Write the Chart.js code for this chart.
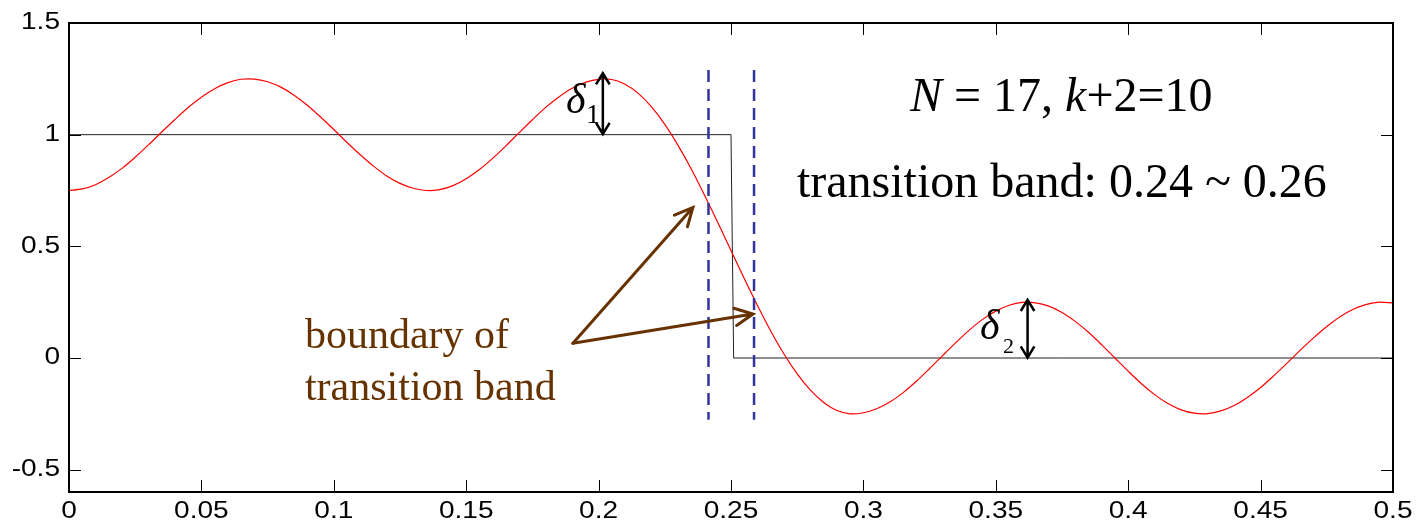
<!DOCTYPE html>
<html>
<head>
<meta charset="utf-8">
<script src="https://cdn.jsdelivr.net/npm/chart.js@4.4.1/dist/chart.umd.min.js"></script>
<style>
  html, body { margin: 0; padding: 0; background: #fff; }
  canvas { display: block; }
</style>
</head>
<body>
<canvas id="freqResp" width="1417" height="526"></canvas>
<script>
// normalized frequency grid
const freq = [
  0, 0.005, 0.01, 0.015, 0.02, 0.025, 0.03, 0.035, 0.04, 0.045,
  0.05, 0.055, 0.06, 0.065, 0.07, 0.075, 0.08, 0.085, 0.09, 0.095,
  0.1, 0.105, 0.11, 0.115, 0.12, 0.125, 0.13, 0.135, 0.14, 0.145,
  0.15, 0.155, 0.16, 0.165, 0.17, 0.175, 0.18, 0.185, 0.19, 0.195,
  0.2, 0.205, 0.21, 0.215, 0.22, 0.225, 0.23, 0.235, 0.24, 0.245,
  0.25, 0.255, 0.26, 0.265, 0.27, 0.275, 0.28, 0.285, 0.29, 0.295,
  0.3, 0.305, 0.31, 0.315, 0.32, 0.325, 0.33, 0.335, 0.34, 0.345,
  0.35, 0.355, 0.36, 0.365, 0.37, 0.375, 0.38, 0.385, 0.39, 0.395,
  0.4, 0.405, 0.41, 0.415, 0.42, 0.425, 0.43, 0.435, 0.44, 0.445,
  0.45, 0.455, 0.46, 0.465, 0.47, 0.475, 0.48, 0.485, 0.49, 0.495,
  0.5
];

// amplitude response of the designed filter (N = 17)
const response = [
  0.750, 0.757, 0.776, 0.808, 0.849, 0.899, 0.954, 1.012, 1.068, 1.122,
  1.168, 1.206, 1.233, 1.248, 1.249, 1.237, 1.213, 1.177, 1.132, 1.079,
  1.023, 0.965, 0.910, 0.859, 0.815, 0.782, 0.760, 0.750, 0.754, 0.772,
  0.803, 0.844, 0.894, 0.950, 1.009, 1.067, 1.122, 1.169, 1.208, 1.234,
  1.248, 1.247, 1.226, 1.185, 1.124, 1.046, 0.952, 0.846, 0.729, 0.607,
  0.481, 0.356, 0.235, 0.121, 0.018, -0.071, -0.144, -0.199, -0.235, -0.250,
  -0.245, -0.227, -0.197, -0.155, -0.104, -0.047, 0.012, 0.070, 0.125, 0.173,
  0.210, 0.236, 0.249, 0.247, 0.232, 0.204, 0.164, 0.115, 0.059, 0.000,
  -0.059, -0.115, -0.164, -0.204, -0.232, -0.247, -0.249, -0.237, -0.213, -0.177,
  -0.132, -0.079, -0.023, 0.035, 0.090, 0.141, 0.185, 0.218, 0.240, 0.250,
  0.246
];

// ideal lowpass, cutoff 0.25
const idealFreq = [0, 0.25, 0.251, 0.5];
const idealGain = [1, 1, 0, 0];

// transition band boundaries
const bandEdges = [0.2415, 0.2587];
const bandSpan = [1.29, -0.276];

const xTicks = [0, 0.05, 0.1, 0.15, 0.2, 0.25, 0.3, 0.35, 0.4, 0.45, 0.5];
const xTickLabels = ['0', '0.05', '0.1', '0.15', '0.2', '0.25', '0.3', '0.35', '0.4', '0.45', '0.5'];
const yTicks = [-0.5, 0, 0.5, 1, 1.5];
const yTickLabels = ['-0.5', '0', '0.5', '1', '1.5'];

const toXY = (xs, ys) => xs.map((v, i) => ({ x: v, y: ys[i] }));

const SERIF = '"Liberation Serif", "Times New Roman", serif';
const BROWN = '#663300';

function stretchText(ctx, str, x, y, align, sx) {
  ctx.save();
  ctx.translate(x, y);
  ctx.scale(sx, 1);
  ctx.textAlign = align;
  ctx.fillText(str, 0, 0);
  ctx.restore();
}

function arrowHead(ctx, x0, y0, x1, y1, len, ang) {
  const a = Math.atan2(y1 - y0, x1 - x0);
  ctx.moveTo(x1 - len * Math.cos(a - ang), y1 - len * Math.sin(a - ang));
  ctx.lineTo(x1, y1);
  ctx.lineTo(x1 - len * Math.cos(a + ang), y1 - len * Math.sin(a + ang));
}

// box with inward ticks on all four sides
const axisFrame = {
  id: 'axisFrame',
  afterDraw(chart) {
    const { ctx, chartArea: a, scales: { x, y } } = chart;
    ctx.save();
    ctx.strokeStyle = '#000';
    ctx.lineWidth = 1;
    ctx.beginPath();
    xTicks.forEach(v => {
      const px = Math.round(x.getPixelForValue(v)) + 0.5;
      ctx.moveTo(px, a.bottom); ctx.lineTo(px, a.bottom - 12);
      ctx.moveTo(px, a.top); ctx.lineTo(px, a.top + 12);
    });
    yTicks.forEach(v => {
      const py = Math.round(y.getPixelForValue(v)) + 0.5;
      ctx.moveTo(a.left, py); ctx.lineTo(a.left + 12, py);
      ctx.moveTo(a.right, py); ctx.lineTo(a.right - 12, py);
    });
    ctx.stroke();
    ctx.lineWidth = 2;
    ctx.strokeRect(a.left, a.top, a.right - a.left, a.bottom - a.top);

    ctx.fillStyle = '#000';
    ctx.font = '23px "Liberation Sans", Arial, sans-serif';
    ctx.textBaseline = 'middle';
    xTicks.forEach((v, i) => stretchText(ctx, xTickLabels[i], x.getPixelForValue(v), a.bottom + 20, 'center', 1.22));
    yTicks.forEach((v, i) => stretchText(ctx, yTickLabels[i], a.left - 9, y.getPixelForValue(v), 'right', 1.22));
    ctx.restore();
  }
};

// text labels and arrows placed in data coordinates
const notes = {
  id: 'notes',
  afterDatasetsDraw(chart) {
    const { ctx, scales: { x, y } } = chart;
    const X = v => x.getPixelForValue(v);
    const Y = v => y.getPixelForValue(v);
    ctx.save();
    ctx.textBaseline = 'alphabetic';
    ctx.textAlign = 'left';

    // N = 17, k+2=10
    let cx = X(0.3176);
    const parts = [['N', true], [' = 17, ', false], ['k', true], ['+2=10', false]];
    parts.forEach(([t, it]) => {
      ctx.font = (it ? 'italic ' : '') + '48px ' + SERIF;
      ctx.fillStyle = '#000';
      ctx.fillText(t, cx, Y(1.104));
      cx += ctx.measureText(t).width;
    });
    ctx.font = '48px ' + SERIF;
    ctx.fillText('transition band: 0.24 ~ 0.26', X(0.2749), Y(0.721));

    // delta markers
    ctx.font = 'italic 42px ' + SERIF;
    ctx.fillText('\u03b4', X(0.1877), Y(1.098));
    ctx.fillText('\u03b4', X(0.344), Y(0.084));
    ctx.font = '28px ' + SERIF;
    ctx.fillText('1', X(0.1952), Y(1.052));
    ctx.font = '22px ' + SERIF;
    ctx.fillText('2', X(0.3527), Y(0.021));

    ctx.strokeStyle = '#000';
    ctx.lineWidth = 2.5;
    [[0.2016, 1.003, 1.275], [0.362, 0.002, 0.26]].forEach(([fx, lo, hi]) => {
      const px = X(fx), y0 = Y(lo), y1 = Y(hi);
      ctx.beginPath();
      ctx.moveTo(px, y0); ctx.lineTo(px, y1);
      arrowHead(ctx, px, y0, px, y1, 13, 0.55);
      arrowHead(ctx, px, y1, px, y0, 13, 0.55);
      ctx.stroke();
    });

    // boundary of transition band
    ctx.fillStyle = BROWN;
    ctx.font = '42px ' + SERIF;
    ctx.fillText('boundary of', X(0.0891), Y(0.045));
    ctx.fillText('transition band', X(0.0891), Y(-0.186));

    ctx.strokeStyle = BROWN;
    ctx.lineWidth = 3;
    ctx.lineCap = 'round';
    const sx = X(0.1903), sy = Y(0.066);
    [[0.2356, 0.674], [0.2583, 0.197]].forEach(([fx, fy]) => {
      const tx = X(fx), ty = Y(fy);
      ctx.beginPath();
      ctx.moveTo(sx, sy); ctx.lineTo(tx, ty);
      arrowHead(ctx, sx, sy, tx, ty, 20, 0.45);
      ctx.stroke();
    });
    ctx.restore();
  }
};

new Chart(document.getElementById('freqResp').getContext('2d'), {
  type: 'line',
  data: {
    datasets: [
      {
        data: toXY(freq, response),
        borderColor: '#ff0000',
        borderWidth: 1.2,
        pointRadius: 0,
        tension: 0.3,
        order: 2
      },
      {
        data: toXY(idealFreq, idealGain),
        borderColor: '#222222',
        borderWidth: 1,
        pointRadius: 0,
        tension: 0,
        order: 3
      },
      ...bandEdges.map(f => ({
        data: toXY([f, f], bandSpan),
        borderColor: '#33339c',
        borderWidth: 2.5,
        borderDash: [12, 7],
        pointRadius: 0,
        order: 1
      }))
    ]
  },
  options: {
    responsive: false,
    animation: false,
    devicePixelRatio: 1,
    layout: { padding: { top: 23, right: 24, left: 0, bottom: 0 } },
    plugins: {
      legend: { display: false },
      tooltip: { enabled: false }
    },
    scales: {
      x: {
        type: 'linear',
        min: 0,
        max: 0.5,
        grid: { display: false },
        border: { display: false },
        ticks: { display: false },
        afterFit: ax => { ax.height = 34; }
      },
      y: {
        min: -0.6,
        max: 1.5,
        grid: { display: false },
        border: { display: false },
        ticks: { display: false },
        afterFit: ax => { ax.width = 69; }
      }
    }
  },
  plugins: [notes, axisFrame]
});
</script>
</body>
</html>
